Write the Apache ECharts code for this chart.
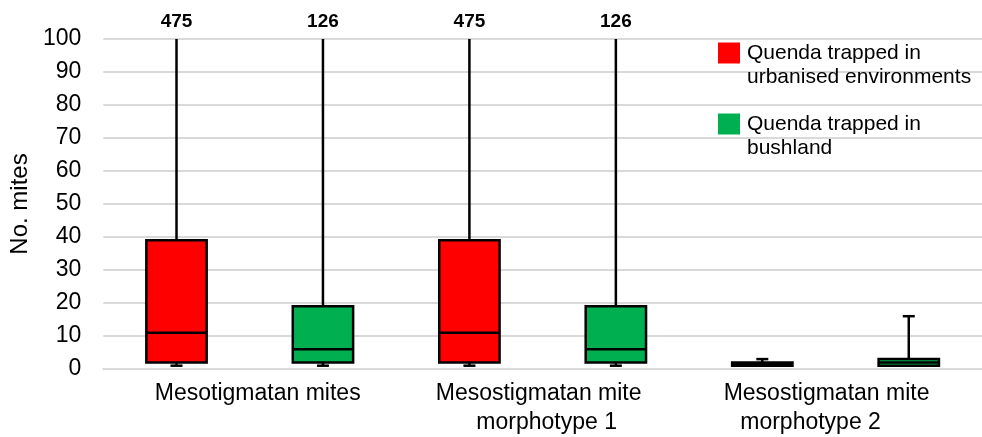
<!DOCTYPE html>
<html>
<head>
<meta charset="utf-8">
<script src="https://cdn.jsdelivr.net/npm/echarts@6/dist/echarts.min.js"></script>
<style>
  html, body { margin: 0; padding: 0; background: #ffffff; }
  #chart { width: 982px; height: 437px; }
</style>
</head>
<body>
<div id="chart"></div>
<script>
// Categories along the x axis
const categories = [
  'Mesotigmatan mites',
  'Mesostigmatan mite\nmorphotype 1',
  'Mesostigmatan mite\nmorphotype 2'
];
// Legend names of the two groups
const seriesNames = [
  'Quenda trapped in\nurbanised environments',
  'Quenda trapped in\nbushland'
];
const seriesColors = ['#ff0000', '#00b050'];
// Five-number summaries per category: [min, Q1, median, Q3, max]
const urbanStats = [
  [1, 2, 11, 39, 475],
  [1, 2, 11, 39, 475],
  [1, 1, 1.5, 2, 3]
];
const bushStats = [
  [1, 2, 6, 19, 126],
  [1, 2, 6, 19, 126],
  [1, 1, 2, 3, 16]
];
// Value axis ticks
const yMin = 0, yMax = 100, yInterval = 10;

const FONT = '"Liberation Sans", Arial, sans-serif';
const STROKE_W = 2.5;

// Box-and-whisker drawn per category; whiskers past the axis are clipped
// and the true maximum is written above the plot.
function boxRenderer(offsetFrac) {
  return function (params, api) {
    const cat = api.value(0);
    const vals = [1, 2, 3, 4, 5].map(i => api.value(i));
    const band = api.size([1, 0])[0];
    const cx = api.coord([cat, 0])[0] + offsetFrac * band;
    const cs = params.coordSys;
    const top = cs.y, bottom = cs.y + cs.height;
    const yOf = v => Math.min(bottom, Math.max(top, api.coord([cat, v])[1]));
    const [pMin, pQ1, pMed, pQ3, pMax] = vals.map(yOf);
    const hw = band * 0.103;
    const capHw = 6;
    const lineStyle = { stroke: '#000', lineWidth: STROKE_W };
    const children = [
      { type: 'line', shape: { x1: cx, y1: pQ3, x2: cx, y2: pMax }, style: lineStyle },
      { type: 'line', shape: { x1: cx, y1: pQ1, x2: cx, y2: pMin }, style: lineStyle },
      { type: 'line', shape: { x1: cx - capHw, y1: pMin, x2: cx + capHw, y2: pMin }, style: lineStyle },
      {
        type: 'rect',
        shape: { x: cx - hw, y: pQ3, width: 2 * hw, height: pQ1 - pQ3 },
        style: { fill: api.visual('color'), stroke: '#000', lineWidth: STROKE_W }
      },
      { type: 'line', shape: { x1: cx - hw, y1: pMed, x2: cx + hw, y2: pMed }, style: lineStyle }
    ];
    if (vals[4] <= yMax) {
      children.push({ type: 'line', shape: { x1: cx - capHw, y1: pMax, x2: cx + capHw, y2: pMax }, style: lineStyle });
    } else {
      children.push({
        type: 'text',
        style: {
          x: cx, y: top - 17, text: String(vals[4]),
          align: 'center', verticalAlign: 'middle',
          font: 'bold 19px ' + FONT, fill: '#000'
        }
      });
    }
    return { type: 'group', children: children };
  };
}

const catBase = { fontSize: 23, fontFamily: FONT, color: '#000', lineHeight: 29 };
const catLabelRich = {
  c0: Object.assign({}, catBase, { padding: [0, 0, 0, 16] }),
  a1: Object.assign({}, catBase, { padding: [0, 8, 0, 0] }),
  b1: Object.assign({}, catBase, { padding: [0, 0, 0, 8] }),
  a2: Object.assign({}, catBase, { padding: [0, 18, 0, 0] }),
  b2: Object.assign({}, catBase, { padding: [0, 50, 0, 0] })
};

function catFormatter(value, index) {
  const lines = value.split('\n');
  if (lines.length === 1) return '{c' + index + '|' + lines[0] + '}';
  return '{a' + index + '|' + lines[0] + '}\n{b' + index + '|' + lines[1] + '}';
}

const chart = echarts.init(document.getElementById('chart'));
chart.setOption({
  animation: false,
  backgroundColor: '#ffffff',
  grid: { left: 101, right: -9, top: 39, bottom: 68, containLabel: false },
  legend: {
    orient: 'vertical',
    left: 718,
    top: 17,
    padding: 0,
    itemWidth: 22,
    itemHeight: 21,
    itemGap: -1,
    icon: 'rect',
    data: seriesNames,
    // leading blank line keeps the swatch level with the first text line
    formatter: name => '\n' + name,
    textStyle: { fontFamily: FONT, fontSize: 21, color: '#000', lineHeight: 24, padding: [0, 0, 0, 2] }
  },
  xAxis: {
    type: 'category',
    data: categories,
    boundaryGap: true,
    axisLine: { show: true, lineStyle: { color: '#d9d9d9', width: 2 } },
    axisTick: { show: false },
    axisLabel: { margin: 10, formatter: catFormatter, rich: catLabelRich },
    splitLine: { show: false }
  },
  yAxis: {
    type: 'value',
    min: yMin,
    max: yMax,
    interval: yInterval,
    name: 'No. mites',
    nameLocation: 'middle',
    nameGap: 71,
    nameTextStyle: { fontFamily: FONT, fontSize: 24, color: '#000' },
    axisLine: { show: false },
    axisTick: { show: false },
    axisLabel: { fontFamily: FONT, fontSize: 23, color: '#000', margin: 22 },
    splitLine: { show: true, lineStyle: { color: '#d9d9d9', width: 2 } }
  },
  series: [
    {
      name: seriesNames[0],
      type: 'custom',
      renderItem: boxRenderer(-0.25),
      itemStyle: { color: seriesColors[0] },
      encode: { x: 0, y: [1, 2, 3, 4, 5] },
      data: urbanStats.map((s, i) => [i].concat(s)),
      z: 3
    },
    {
      name: seriesNames[1],
      type: 'custom',
      renderItem: boxRenderer(0.25),
      itemStyle: { color: seriesColors[1] },
      encode: { x: 0, y: [1, 2, 3, 4, 5] },
      data: bushStats.map((s, i) => [i].concat(s)),
      z: 3
    }
  ]
});
</script>
</body>
</html>
